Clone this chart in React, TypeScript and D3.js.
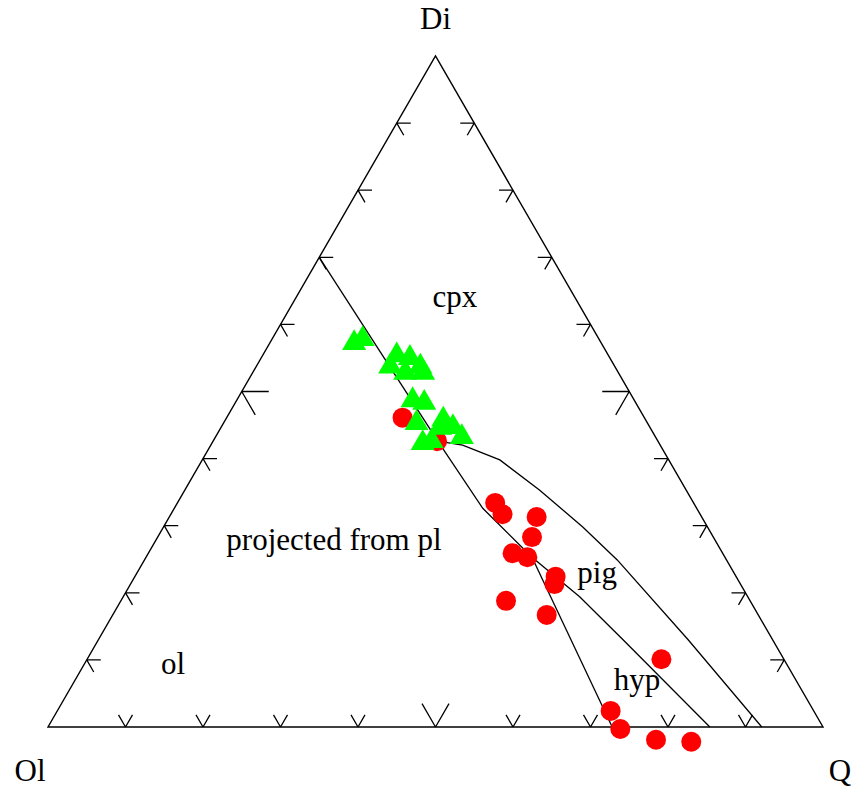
import * as d3 from "d3";
import React from "react";

// Diagrama ternario Ol - Di - Q (proyectado desde plagioclasa)
// Composiciones en porcentaje: [Ol, Di, Q]

const vertices = [
  { name: "Ol", comp: [100, 0, 0] },
  { name: "Q", comp: [0, 0, 100] },
  { name: "Di", comp: [0, 100, 0] },
];

// límites de campos
const olCpx = [[30, 70, 0], [28.4, 42.6, 29.0]];
const olPig = [[28.4, 42.6, 29.0], [27.6, 32.6, 39.8], [24.9, 25.3, 49.8]];
const olHyp = [[24.9, 25.3, 49.8], [27.2, 0, 72.8]];
const pigHyp = [[24.9, 25.3, 49.8], [21.7, 19.4, 58.9], [19.3, 13.0, 67.7], [14.6, 0, 85.4]];
const cpxPig = [
  [28.4, 42.6, 29.0], [25.5, 42.0, 32.5], [21.8, 39.8, 38.4], [18.9, 35.3, 45.8],
  [16.1, 29.8, 54.1], [14.1, 24.9, 61.0], [10.9, 13.0, 76.1], [7.9, 0, 92.1],
];
const boundaries = [olCpx, olPig, olHyp, pigHyp, cpxPig];

// muestras (círculos rojos)
const redSamples = [
  [31.2, 46.1, 22.7], [28.5, 42.6, 28.9], [25.6, 33.4, 41.0], [25.5, 31.7, 42.8],
  [21.3, 31.3, 47.4], [23.4, 28.3, 48.3], [27.1, 25.9, 47.0], [25.5, 25.3, 49.2],
  [23.3, 22.4, 54.3], [24.0, 21.3, 54.7], [31.5, 18.8, 49.7], [27.3, 16.7, 56.0],
  [15.8, 10.1, 74.1], [26.2, 2.4, 71.4], [26.3, -0.3, 74.0], [22.5, -1.9, 79.4],
  [18.1, -2.2, 84.1],
];

// muestras (triángulos verdes)
const greenSamples = [
  [31.9, 57.2, 10.9], [30.5, 57.8, 11.7], [27.3, 55.4, 17.3], [25.8, 55.0, 19.2],
  [29.0, 53.7, 17.3], [25.1, 53.7, 21.2], [27.5, 52.8, 19.7], [25.2, 52.8, 22.0],
  [28.6, 48.7, 22.7], [27.3, 48.3, 24.4], [29.8, 45.3, 24.9], [26.1, 45.8, 28.1],
  [25.4, 44.7, 29.9], [25.0, 43.2, 31.8], [30.5, 42.3, 27.2], [29.2, 42.6, 28.2],
  [27.1, 44.6, 28.3],
];

// etiquetas de campos
const fieldLabels = [
  { text: "cpx", comp: [15.7, 63.6, 20.7] },
  { text: "projected from pl", comp: [49.4, 27.4, 23.2] },
  { text: "pig", comp: [17.9, 22.5, 59.6] },
  { text: "hyp", comp: [20.7, 6.6, 72.7] },
  { text: "ol", comp: [79.4, 8.9, 11.7] },
];

const tickSteps = d3.range(10, 100, 10);

const width = 853;
const height = 793;

export default function App() {
  const sx = d3.scaleLinear().domain([0, 100]).range([48, 823]);
  const sy = d3.scaleLinear().domain([0, 100]).range([727, 56]);

  const project = (c: number[]): [number, number] => {
    const [ol, di, q] = c;
    const sum = ol + di + q;
    const dn = (di / sum) * 100;
    const qn = (q / sum) * 100;
    return [sx(qn + dn / 2), sy(dn)];
  };

  const line = d3.line<number[]>().x((d) => project(d)[0]).y((d) => project(d)[1]);

  const P = vertices.map((v) => project(v.comp));
  const sides = [
    [0, 1, 2],
    [0, 2, 1],
    [2, 1, 0],
  ];

  // marcas: dos trazos por punto, paralelos a los otros dos lados
  const ticks: string[] = [];
  sides.forEach(([a, b, c]) => {
    const A = P[a], B = P[b], C = P[c];
    const dirs = [A, B].map((V) => {
      const dx = C[0] - V[0], dy = C[1] - V[1];
      const len = Math.hypot(dx, dy);
      return [dx / len, dy / len];
    });
    tickSteps.forEach((t) => {
      const f = t / 100;
      const px = A[0] + f * (B[0] - A[0]);
      const py = A[1] + f * (B[1] - A[1]);
      const L = t === 50 ? 27 : 14;
      const p = d3.path();
      dirs.forEach(([ux, uy]) => {
        p.moveTo(px, py);
        p.lineTo(px + ux * L, py + uy * L);
      });
      ticks.push(p.toString());
    });
  });

  const tri = d3.symbol().type(d3.symbolTriangle).size(250)();
  const font = "'Liberation Serif', 'Times New Roman', serif";
  const fs = 31;

  return (
    <svg
      width={width}
      height={height}
      style={{ position: "absolute", left: 0, top: 0, background: "#fff" }}
      fontFamily={font}
    >
      <path
        d={`M${P[0]}L${P[1]}L${P[2]}Z`}
        fill="none"
        stroke="#000"
        strokeWidth={1.4}
      />
      {ticks.map((d, i) => (
        <path key={i} d={d} fill="none" stroke="#000" strokeWidth={1.3} />
      ))}
      {boundaries.map((b, i) => (
        <path key={i} d={line(b) || ""} fill="none" stroke="#000" strokeWidth={1.3} />
      ))}
      {redSamples.map((d, i) => {
        const [x, y] = project(d);
        return <circle key={i} cx={x} cy={y} r={10} fill="#ff0000" />;
      })}
      {greenSamples.map((d, i) => {
        const [x, y] = project(d);
        return <path key={i} d={tri || ""} transform={`translate(${x},${y})`} fill="#00ff00" />;
      })}
      {fieldLabels.map((l, i) => {
        const [x, y] = project(l.comp);
        return (
          <text key={i} x={x} y={y} textAnchor="middle" dominantBaseline="middle" fontSize={fs}>
            {l.text}
          </text>
        );
      })}
      <text x={P[2][0]} y={22} textAnchor="middle" dominantBaseline="middle" fontSize={fs}>
        Di
      </text>
      <text x={P[0][0] - 18} y={774} textAnchor="middle" dominantBaseline="middle" fontSize={fs}>
        Ol
      </text>
      <text x={P[1][0] + 17} y={774} textAnchor="middle" dominantBaseline="middle" fontSize={fs}>
        Q
      </text>
    </svg>
  );
}
